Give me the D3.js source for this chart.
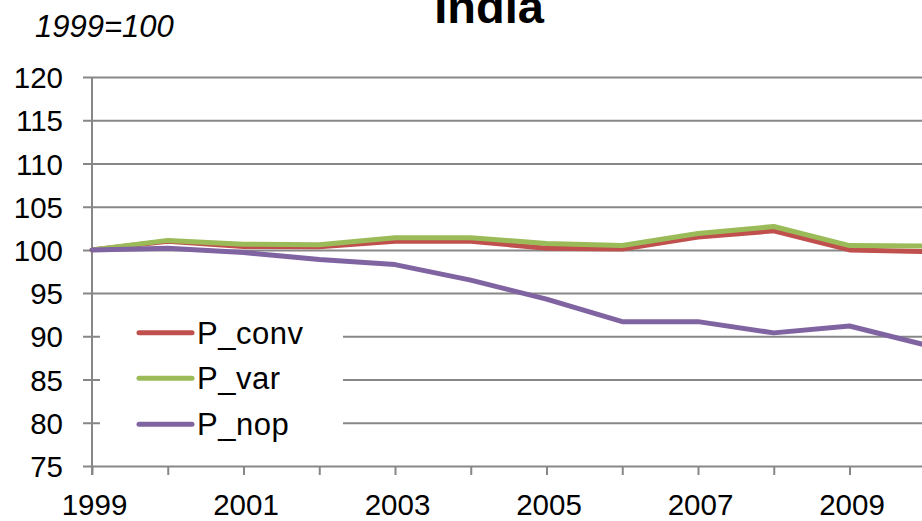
<!DOCTYPE html>
<html>
<head>
<meta charset="utf-8">
<script src="https://cdn.jsdelivr.net/npm/d3@7"></script>
<style>
  html, body { margin: 0; padding: 0; background: #fff; }
  svg { display: block; overflow: hidden; }
  text { font-family: "Liberation Sans", Arial, sans-serif; fill: #000; }
</style>
</head>
<body>
<svg id="chart" width="922" height="521"></svg>
<script>
// Price indices for India, 1999 = 100
const years = [1999, 2000, 2001, 2002, 2003, 2004, 2005, 2006, 2007, 2008, 2009, 2010];
const pConv = [100, 101.0, 100.4, 100.35, 101.0, 101.0, 100.2, 100.1, 101.5, 102.2, 100.0, 99.8];
const pVar  = [100, 101.1, 100.65, 100.6, 101.4, 101.4, 100.75, 100.5, 101.9, 102.7, 100.5, 100.45];
const pNop  = [100, 100.2, 99.7, 98.9, 98.3, 96.5, 94.3, 91.7, 91.7, 90.4, 91.2, 89.0];
const yTicks = [75, 80, 85, 90, 95, 100, 105, 110, 115, 120];
const xLabelYears = [1999, 2001, 2003, 2005, 2007, 2009];

const seriesNames = ["P_conv", "P_var", "P_nop"];
const seriesValues = [pConv, pVar, pNop];
const seriesColors = ["#C0504D", "#9BBB59", "#8064A2"];

const svg = d3.select("#chart");
const plotLeft = 92, plotTop = 77, plotBottom = 466, step = 75.75;

const x = d3.scalePoint().domain(years).range([plotLeft, plotLeft + step * (years.length - 1)]);
const y = d3.scaleLinear().domain([75, 120]).range([plotBottom, plotTop]);

const gridColor = "#878787";
const axisFont = "29.5px";

// horizontal gridlines with outward ticks
const yAxis = d3.axisLeft(y).tickValues(yTicks).tickSizeOuter(0)
  .tickFormat(d3.format("d"));
const gy = svg.append("g").attr("transform", `translate(${plotLeft},0)`).call(yAxis);
gy.select(".domain").remove();
gy.selectAll(".tick line")
  .attr("x1", -9).attr("x2", 1000)
  .attr("stroke", gridColor).attr("stroke-width", 2);
gy.selectAll(".tick text")
  .attr("x", -29).attr("dy", "0.36em")
  .style("font-size", axisFont).style("font-family", "'Liberation Sans', Arial, sans-serif")
  .attr("fill", "#000");

// vertical axis line
svg.append("line")
  .attr("x1", plotLeft).attr("x2", plotLeft).attr("y1", plotTop).attr("y2", plotBottom + 9)
  .attr("stroke", gridColor).attr("stroke-width", 2);

// category axis
const xAxis = d3.axisBottom(x).tickSize(9).tickSizeOuter(0)
  .tickFormat(d => xLabelYears.includes(d) ? String(d) : "");
const gx = svg.append("g").attr("transform", `translate(0,${plotBottom})`).call(xAxis);
gx.select(".domain").remove();
gx.selectAll(".tick line").attr("stroke", gridColor).attr("stroke-width", 2);
gx.selectAll(".tick text")
  .attr("x", 2).attr("y", 28).attr("dy", "0.71em")
  .style("font-size", axisFont).style("font-family", "'Liberation Sans', Arial, sans-serif")
  .attr("fill", "#000");

// legend background, hides gridlines behind it
svg.append("rect")
  .attr("x", 100).attr("y", 302).attr("width", 243).attr("height", 150)
  .attr("fill", "#fff");

// series lines
const line = d3.line().x((d, i) => x(years[i])).y(d => y(d));
seriesValues.forEach((vals, k) => {
  svg.append("path")
    .datum(vals)
    .attr("d", line)
    .attr("fill", "none")
    .attr("stroke", seriesColors[k])
    .attr("stroke-width", 5)
    .attr("stroke-linejoin", "round")
    .attr("stroke-linecap", "round");
});

// legend
const legendRows = [332.7, 378.3, 424.3];
seriesNames.forEach((name, k) => {
  const ly = legendRows[k];
  svg.append("line")
    .attr("x1", 139).attr("x2", 192).attr("y1", ly).attr("y2", ly)
    .attr("stroke", seriesColors[k]).attr("stroke-width", 5)
    .attr("stroke-linecap", "round");
  svg.append("text")
    .attr("x", 197).attr("y", ly + 11)
    .style("font-size", "31px")
    .style("letter-spacing", "0.5px")
    .text(name);
});

// title and index base note
svg.append("text")
  .attr("x", 489).attr("y", 23)
  .attr("text-anchor", "middle")
  .style("font-size", "47px").style("font-weight", "bold")
  .text("India");

svg.append("text")
  .attr("x", 35).attr("y", 37)
  .style("font-size", "31px").style("font-style", "italic")
  .text("1999=100");
</script>
</body>
</html>
